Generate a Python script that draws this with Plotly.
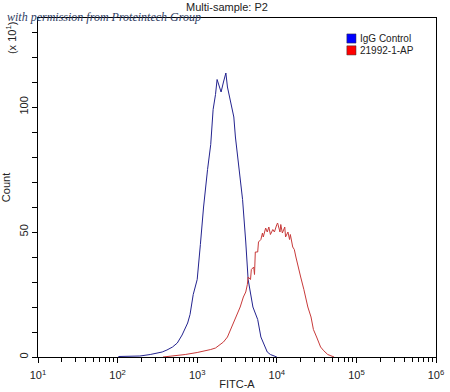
import plotly.graph_objects as go

# ---- data (log10 of FITC-A intensity, counts in units of x10) ----
series_names = ["IgG Control", "21992-1-AP"]

igg_log = [2.01, 2.16, 2.28, 2.41, 2.50, 2.56, 2.62, 2.69, 2.75, 2.81, 2.88, 2.91,
           2.95, 3.00, 3.04, 3.08, 3.13, 3.17, 3.20, 3.23, 3.25, 3.28, 3.30, 3.33,
           3.36, 3.38, 3.41, 3.43, 3.46, 3.48, 3.52, 3.57, 3.61, 3.64, 3.70, 3.76,
           3.80, 3.83, 3.88, 3.92, 4.00]
igg_count = [0.2, 0.3, 0.4, 1.0, 1.6, 2.0, 2.8, 4.0, 5.6, 8.8, 13.6, 17,
             25, 31, 45, 60, 75, 85, 99, 105, 111, 108, 106, 110,
             113.6, 108, 103, 101, 96, 88, 77, 63, 46, 31, 20, 15,
             8, 6, 2, 1, 0]

ab_log = [2.57, 2.73, 2.85, 3.00, 3.10, 3.17, 3.23, 3.29, 3.33, 3.38, 3.42, 3.46,
          3.49, 3.54, 3.58, 3.61, 3.63, 3.64, 3.67, 3.68, 3.71, 3.72, 3.73, 3.76,
          3.77, 3.80, 3.82, 3.83, 3.86, 3.88, 3.90, 3.92, 3.95, 3.97, 4.00, 4.01,
          4.04, 4.05, 4.07, 4.10, 4.11, 4.14, 4.16, 4.17, 4.20, 4.22, 4.24, 4.26,
          4.30, 4.34, 4.36, 4.39, 4.43, 4.46, 4.50, 4.53, 4.55, 4.59, 4.64, 4.68, 4.72]
ab_count = [0, 0.5, 1.0, 1.8, 2.4, 3.0, 3.6, 5, 6, 8, 11, 14,
            17, 20, 24, 26, 29, 32, 31, 35, 36, 33, 42, 42,
            46, 47, 49.6, 48, 51.6, 50, 52, 49, 51, 50, 53, 53.6,
            50, 53, 49.6, 52, 48, 50, 47, 49, 44, 43, 40, 37,
            32, 27, 24, 20, 16, 11, 8, 6, 4, 2.5, 1, 0.5, 0]

x_decades = [1, 2, 3, 4, 5, 6]
x_ticklabels = ["10<sup>%d</sup>" % d for d in x_decades]
y_tickvals = [0, 50, 100]

line_colors = ["#23238f", "#c83a3a"]
swatch_colors = ["#0000ff", "#ff0000"]

FONT = "Liberation Sans, Arial, sans-serif"

fig = go.Figure()
fig.add_trace(go.Scatter(x=[10 ** v for v in igg_log], y=igg_count, mode="lines",
                         name=series_names[0], line=dict(color=line_colors[0], width=1),
                         showlegend=False))
fig.add_trace(go.Scatter(x=[10 ** v for v in ab_log], y=ab_count, mode="lines",
                         name=series_names[1], line=dict(color=line_colors[1], width=1),
                         showlegend=False))

fig.update_layout(
    width=450, height=392,
    margin=dict(l=38, r=14, t=18, b=35, autoexpand=False),
    paper_bgcolor="white", plot_bgcolor="white",
    font=dict(family=FONT, size=11, color="#222"),
    showlegend=False,
)

fig.update_xaxes(
    type="log", range=[1, 6], tickmode="array",
    tickvals=[10 ** d for d in x_decades], ticktext=x_ticklabels,
    showgrid=False, zeroline=False, automargin=False,
    showline=True, linecolor="black", linewidth=1, mirror=True,
    ticks="outside", ticklen=5, tickcolor="black", ticklabelstandoff=3,
    minor=dict(ticks="outside", ticklen=4, dtick="D1", tickcolor="black", showgrid=False),
    tickfont=dict(size=11, color="#222"),
    title=dict(text="FITC-A", font=dict(size=11, color="#222"), standoff=0),
)
fig.update_yaxes(
    range=[0, 135.6], tickmode="array", tickvals=y_tickvals,
    ticktext=[str(v) for v in y_tickvals], tickangle=-90,
    showgrid=False, zeroline=False, automargin=False,
    showline=True, linecolor="black", linewidth=1, mirror=True,
    ticks="outside", ticklen=5, tickcolor="black",
    minor=dict(ticks="outside", ticklen=5, dtick=10, tickcolor="black", showgrid=False),
    tickfont=dict(size=11, color="#222"),
    title=dict(text="Count", font=dict(size=11, color="#222"), standoff=4),
)

# title, scale label, watermark
fig.add_annotation(text="Multi-sample: P2", xref="paper", yref="paper", x=0.475, y=1.0,
                   xanchor="center", yanchor="bottom", yshift=3, showarrow=False,
                   font=dict(size=11, color="#222"))
fig.add_annotation(text="(x 10<sup>1</sup>)", xref="paper", yref="paper", x=-0.066, y=0.94,
                   xanchor="center", yanchor="middle", textangle=-90, showarrow=False,
                   font=dict(size=11, color="#222"))
fig.add_annotation(text="<i>with permission from Proteintech Group</i>", xref="paper", yref="paper",
                   x=-0.083, y=1.003, xanchor="left", yanchor="middle", showarrow=False,
                   font=dict(family="Liberation Serif, serif", size=12, color="#2f3d63"))

# legend drawn as swatches + labels
for i, name in enumerate(series_names):
    ytop = 0.953 - i * 0.035
    fig.add_shape(type="rect", xref="paper", yref="paper",
                  x0=0.776, x1=0.799, y0=ytop - 0.027, y1=ytop,
                  fillcolor=swatch_colors[i], line=dict(color="#333", width=0.5))
    fig.add_annotation(text=name, xref="paper", yref="paper", x=0.803, y=ytop - 0.0135,
                       xanchor="left", yanchor="middle", showarrow=False,
                       font=dict(size=10, color="#222"))

fig.write_html("out.html", config={"displayModeBar": False},
               post_script="document.body.style.margin='0';")
